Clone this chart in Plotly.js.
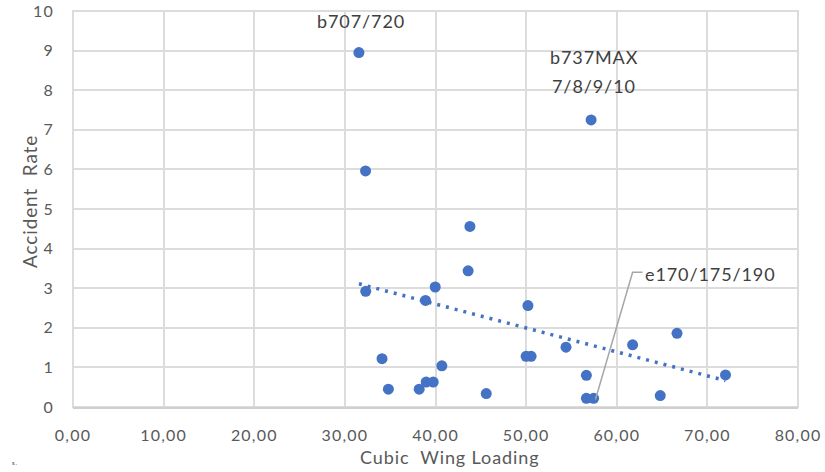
<!DOCTYPE html>
<html>
<head>
<meta charset="utf-8">
<script src="https://cdn.plot.ly/plotly-3.0.1.min.js"></script>
<style>
html,body{margin:0;padding:0;background:#fff;}
#chart{width:825px;height:472px;}
.xtick text,.ytick text{letter-spacing:1.2px;}
.annotation-text{letter-spacing:0.9px;}
</style>
</head>
<body>
<div id="chart"></div>
<script>
// Cubic wing loading (x) vs accident rate (y)
const wingLoading = [31.55, 57.17, 32.28, 43.8, 43.6, 32.3, 39.97, 38.9, 50.2, 34.1, 40.7, 34.8, 38.2,
  38.97, 39.75, 45.6, 50.0, 50.55, 54.4, 56.65, 56.65, 57.45, 61.75, 66.65, 64.8, 72.0];
const accidentRate = [8.95, 7.25, 5.96, 4.56, 3.44, 2.92, 3.03, 2.69, 2.56, 1.22, 1.04, 0.45, 0.45,
  0.63, 0.63, 0.34, 1.28, 1.28, 1.51, 0.80, 0.22, 0.22, 1.57, 1.86, 0.29, 0.81];
const xTickVals = [0, 10, 20, 30, 40, 50, 60, 70, 80];
const yTickVals = [0, 1, 2, 3, 4, 5, 6, 7, 8, 9, 10];
const xTitle = "Cubic&nbsp;&nbsp;Wing Loading";
const yTitle = "Accident&nbsp;&nbsp;Rate";
const labelB707 = "b707/720";
const labelB737a = "b737MAX";
const labelB737b = "7/8/9/10";
const labelE170 = "e170/175/190";

// Linear least-squares trendline (as Excel's linear trendline), over the data x-range
const n = wingLoading.length;
const mx = wingLoading.reduce((a, b) => a + b, 0) / n;
const my = accidentRate.reduce((a, b) => a + b, 0) / n;
let sxy = 0, sxx = 0;
for (let i = 0; i < n; i++) { sxy += (wingLoading[i] - mx) * (accidentRate[i] - my); sxx += (wingLoading[i] - mx) ** 2; }
const slope = sxy / sxx, intercept = my - slope * mx;
const xMin = Math.min(...wingLoading), xMax = Math.max(...wingLoading);
const trendX = [xMin, xMax];
const trendY = trendX.map(v => intercept + slope * v);

const FONT = "Lato, 'Open Sans', sans-serif";
const grey = "#595959";
const gridGrey = "#dcdcdc";

const data = [
  {
    x: trendX, y: trendY, type: "scatter", mode: "lines",
    line: {color: "#4472C4", width: 3.5, dash: "3px,6px"},
    hoverinfo: "skip", showlegend: false
  },
  {
    x: wingLoading, y: accidentRate, type: "scatter", mode: "markers",
    marker: {color: "#4472C4", size: 11}, showlegend: false
  }
];

const layout = {
  width: 825, height: 472,
  margin: {l: 73, r: 27, t: 11, b: 65},
  paper_bgcolor: "#ffffff", plot_bgcolor: "#ffffff",
  separators: ",.",
  font: {family: FONT, color: grey},
  showlegend: false,
  xaxis: {
    range: [0, 80], tickvals: xTickVals, tickformat: ".2f",
    showgrid: true, gridcolor: gridGrey, gridwidth: 2,
    zeroline: false, showline: true, linecolor: "#cfcfcf", linewidth: 2,
    ticks: "", ticklabelstandoff: 13,
    tickfont: {family: FONT, size: 16, color: grey}
  },
  yaxis: {
    range: [0, 10], tickvals: yTickVals,
    showgrid: true, gridcolor: gridGrey, gridwidth: 2,
    zeroline: false, showline: false,
    ticks: "", ticklabelstandoff: 18,
    tickfont: {family: FONT, size: 16, color: grey}
  },
  shapes: [
    {type: "rect", xref: "paper", yref: "paper", x0: 0, x1: 1, y0: 0, y1: 1,
     line: {color: gridGrey, width: 2}, layer: "below"},
    {type: "path", xref: "x", yref: "y", path: "M 57.65,0.19 L 61.75,3.40 L 62.85,3.40",
     line: {color: "#a6a6a6", width: 1.5}}
  ],
  annotations: [
    {x: 31.8, y: 9.75, xref: "x", yref: "y", text: labelB707, showarrow: false,
     font: {family: FONT, size: 18, color: "#404040"}},
    {x: 57.5, y: 8.83, xref: "x", yref: "y", text: labelB737a, showarrow: false,
     font: {family: FONT, size: 18, color: "#404040"}},
    {x: 57.5, y: 8.1, xref: "x", yref: "y", text: labelB737b, showarrow: false,
     font: {family: FONT, size: 18, color: "#404040"}},
    {x: 62.95, y: 3.37, xref: "x", yref: "y", text: labelE170, showarrow: false, xanchor: "left",
     font: {family: FONT, size: 18, color: "#404040"}},
    {x: 0.519, y: -0.125, xref: "paper", yref: "paper", text: xTitle, showarrow: false,
     xanchor: "center", yanchor: "middle", font: {family: FONT, size: 18, color: grey}},
    {x: -0.059, y: 0.518, xref: "paper", yref: "paper", text: yTitle, showarrow: false, textangle: -90,
     xanchor: "center", yanchor: "middle", font: {family: FONT, size: 19, color: grey}},
    {x: -0.087, y: -0.14, xref: "paper", yref: "paper", text: "s.", showarrow: false,
     xanchor: "left", yanchor: "middle", font: {family: FONT, size: 6, color: "#404040"}}
  ]
};

Plotly.newPlot("chart", data, layout, {displayModeBar: false, staticPlot: true});
</script>
</body>
</html>
